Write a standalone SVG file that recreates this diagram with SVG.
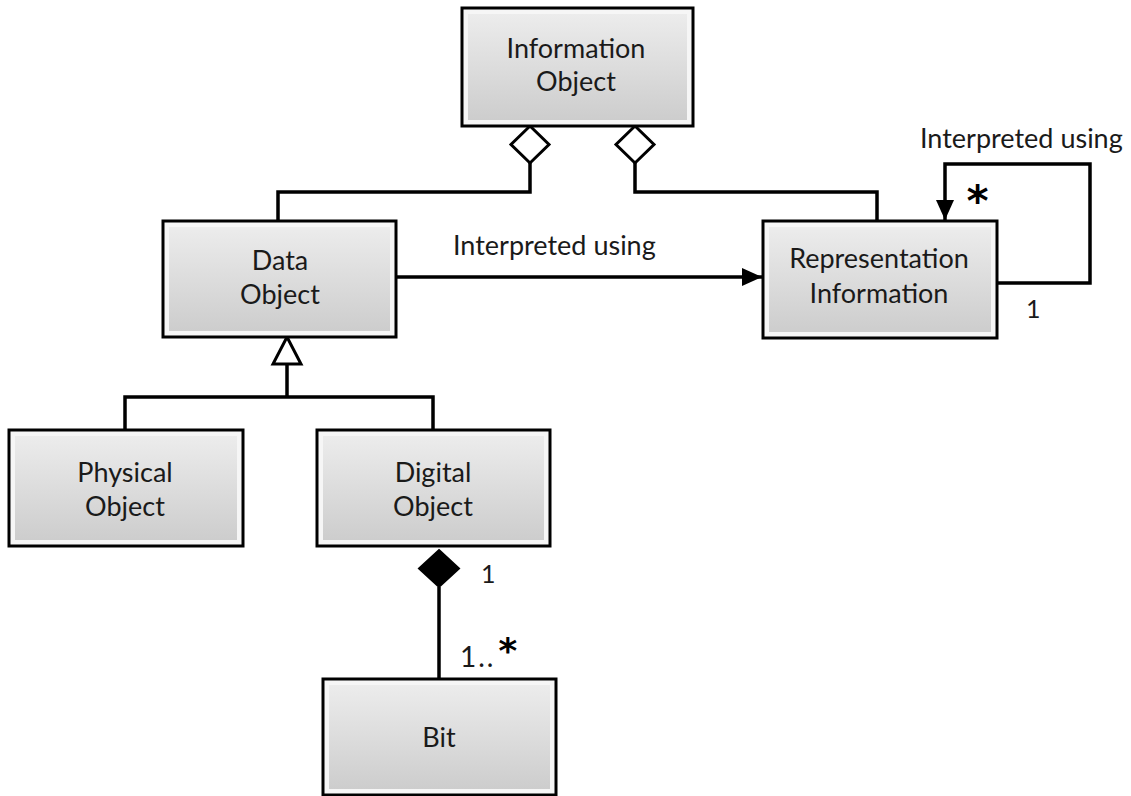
<svg xmlns="http://www.w3.org/2000/svg" width="1131" height="796" viewBox="0 0 1131 796">
<defs>
<linearGradient id="g" x1="0" y1="0" x2="0" y2="1">
<stop offset="0" stop-color="#ececec"/>
<stop offset="1" stop-color="#cdcdcd"/>
</linearGradient>
<marker id="arr" viewBox="0 0 20 18" refX="20" refY="9" markerWidth="20" markerHeight="18" markerUnits="userSpaceOnUse" orient="auto">
<path d="M0,0 L20,9 L0,18 Z" fill="#000"/>
</marker>
<style>
.edge{fill:#f6f6f6;stroke:none}
.face{fill:url(#g);stroke:none}
.frame{fill:none;stroke:#000;stroke-width:3}
.t{font-family:Lato,"Open Sans",sans-serif;font-size:27px;fill:#1a1a1a;text-anchor:middle}
.lbl{font-family:Lato,"Open Sans",sans-serif;font-size:27px;fill:#1a1a1a}
.m{font-family:Lato,"Open Sans",sans-serif;font-size:25px;fill:#1a1a1a}
.star{font-family:"DejaVu Sans Mono","Liberation Mono",monospace;font-size:42px;font-weight:bold;fill:#000}
.ln{fill:none;stroke:#000;stroke-width:3.5}
</style>
</defs>
<rect width="1131" height="796" fill="#fff"/>

<g id="connectors">
<path class="ln" d="M530,163 V192 H278 V221"/>
<path d="M530,126 L549,144.5 L530,163 L511,144.5 Z" fill="#fff" stroke="#000" stroke-width="3"/>
<path class="ln" d="M635,163 V192 H877 V221"/>
<path d="M635,126 L654,144.5 L635,163 L616,144.5 Z" fill="#fff" stroke="#000" stroke-width="3"/>
<path class="ln" d="M396,277 H762" marker-end="url(#arr)"/>
<path class="ln" d="M997,283 H1090 V164 H945 V220" marker-end="url(#arr)"/>
<path class="ln" d="M287,364 V397 M125,430 V397 H433 V430"/>
<path d="M287,337 L301,364 L273,364 Z" fill="#fff" stroke="#000" stroke-width="3"/>
<path class="ln" d="M439,587 V679"/>
<path d="M439,550 L459,568.5 L439,587 L419,568.5 Z" fill="#000" stroke="#000" stroke-width="2"/>
<text class="lbl" x="453" y="255">Interpreted using</text>
<text class="lbl" x="920" y="148">Interpreted using</text>
<text class="star" x="965" y="216">*</text>
<text class="m" x="1026" y="318">1</text>
<text class="m" x="481" y="583">1</text>
<text class="m" x="460" y="667" style="font-size:28px;letter-spacing:2px">1..</text>
<text class="star" x="497" y="663" style="font-size:36px">*</text>
</g>

<g id="information-object">
<rect class="edge" x="462" y="8" width="231" height="118"/>
<rect class="face" x="468" y="14" width="219" height="106"/>
<rect class="frame" x="462" y="8" width="231" height="118"/>
<text class="t" x="576" y="58">Information</text>
<text class="t" x="576" y="91">Object</text>
</g>

<g id="data-object">
<rect class="edge" x="163" y="221" width="233" height="116"/>
<rect class="face" x="169" y="227" width="221" height="104"/>
<rect class="frame" x="163" y="221" width="233" height="116"/>
<text class="t" x="280" y="270">Data</text>
<text class="t" x="280" y="304">Object</text>
</g>

<g id="representation-information">
<rect class="edge" x="763" y="221" width="234" height="117"/>
<rect class="face" x="769" y="227" width="222" height="105"/>
<rect class="frame" x="763" y="221" width="234" height="117"/>
<text class="t" x="879" y="268">Representation</text>
<text class="t" x="879" y="303">Information</text>
</g>

<g id="physical-object">
<rect class="edge" x="9" y="430" width="234" height="116"/>
<rect class="face" x="15" y="436" width="222" height="104"/>
<rect class="frame" x="9" y="430" width="234" height="116"/>
<text class="t" x="125" y="482">Physical</text>
<text class="t" x="125" y="516">Object</text>
</g>

<g id="digital-object">
<rect class="edge" x="317" y="430" width="233" height="116"/>
<rect class="face" x="323" y="436" width="221" height="104"/>
<rect class="frame" x="317" y="430" width="233" height="116"/>
<text class="t" x="433" y="482">Digital</text>
<text class="t" x="433" y="516">Object</text>
</g>

<g id="bit">
<rect class="edge" x="323" y="679" width="233" height="116"/>
<rect class="face" x="329" y="685" width="221" height="104"/>
<rect class="frame" x="323" y="679" width="233" height="116"/>
<text class="t" x="439" y="747">Bit</text>
</g>
</svg>
